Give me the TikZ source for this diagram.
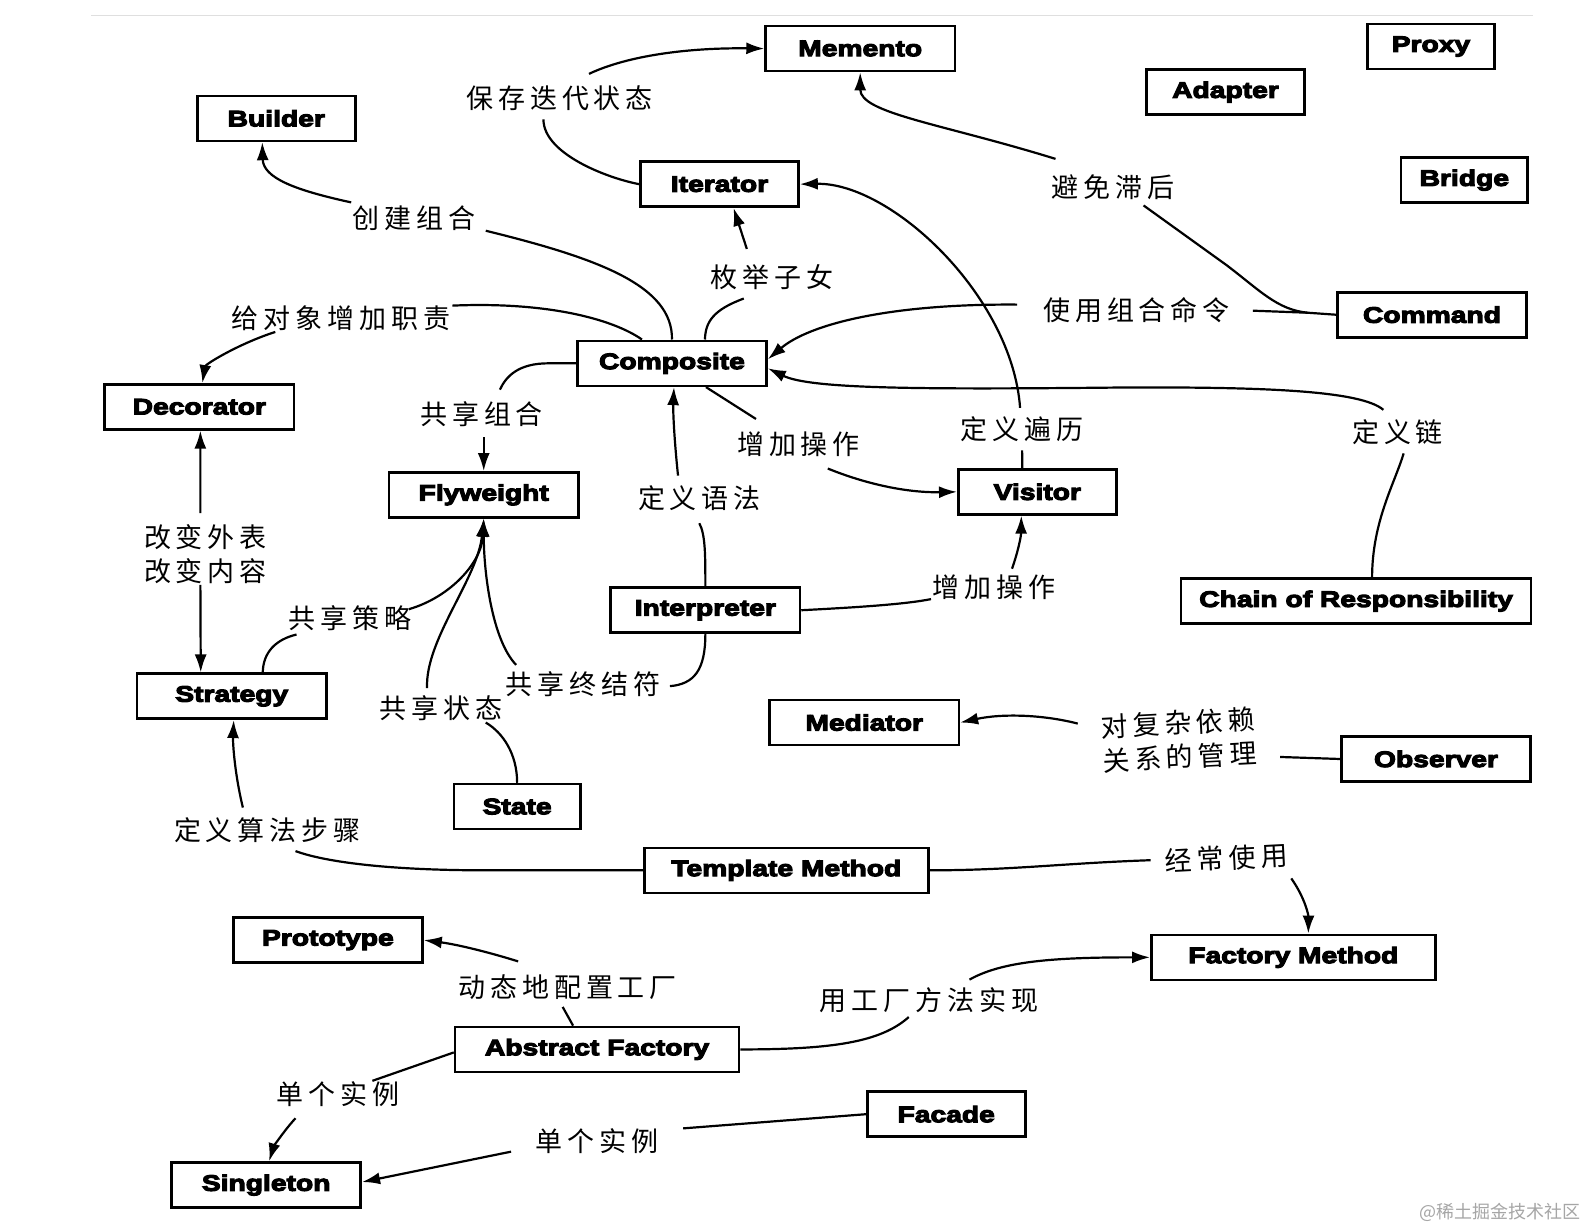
\documentclass[tikz,border=0pt]{standalone}
\usepackage{fontspec}
\usetikzlibrary{arrows.meta}
\newfontfamily\cjk[LetterSpace=18]{Noto Sans CJK SC}
\newfontfamily\cjkplain{Noto Sans CJK SC}
\newfontfamily\boxf[FakeStretch=1.26,BoldFeatures={FakeBold=5}]{Liberation Sans}
\tikzset{
  pbox/.style={draw, line width=1.3pt, font=\boxf\bfseries\fontsize{11.2}{13}\selectfont, minimum height=22.5pt, inner sep=0pt},
  wS/.style={pbox, minimum width=63.3pt},
  wM/.style={pbox, minimum width=79pt},
  wL/.style={pbox, minimum width=94.6pt},
  wXL/.style={pbox, minimum width=142pt},
  wC/.style={pbox, minimum width=175pt},
  lab/.style={font=\cjk\fontsize{13.5}{17}\selectfont, inner sep=0pt, align=center},
  con/.style={line width=1.1pt},
  arr/.style={con, -{Latex[length=9pt,width=6pt]}},
}
\begin{document}
\begin{tikzpicture}[x=0.506pt,y=-0.506pt]
\fill[white] (0,0) rectangle (1567.2,1215.4);
\useasboundingbox (0,0) rectangle (1567.2,1215.4);
\draw[gray!25, line width=0.6pt] (90,15) -- (1515,15);

% ---------- boxes ----------
\node[wL] (mem) at (850,48) {Memento};
\node[wS] (proxy) at (1414,46) {Proxy};
\node[wM] (adapt) at (1211,91) {Adapter};
\node[wM] (build) at (273,117) {Builder};
\node[wM] (iter) at (711,182) {Iterator};
\node[wS] (bridge) at (1447,178) {Bridge};
\node[wL] (cmd) at (1415,311) {Command};
\node[wL] (comp) at (664,359) {Composite};
\node[wL] (dec) at (197,402) {Decorator};
\node[wL] (flyw) at (478,489) {Flyweight};
\node[wM] (vis) at (1025,486) {Visitor};
\node[wC] (chain) at (1340,594) {Chain of Responsibility};
\node[wL] (interp) at (697,603) {Interpreter};
\node[wL] (strat) at (229,688) {Strategy};
\node[wL] (med) at (854,714) {Mediator};
\node[wL] (obs) at (1419,750) {Observer};
\node[wS] (state) at (511,797) {State};
\node[wXL] (templ) at (777,860) {Template Method};
\node[wL] (proto) at (324,929) {Prototype};
\node[wXL] (fm) at (1278,946) {Factory Method};
\node[wXL] (af) at (590,1037) {Abstract Factory};
\node[wM] (facade) at (935,1101) {Facade};
\node[wL] (single) at (263,1171) {Singleton};

% ---------- labels ----------
\node[lab] (lsave) at (553,97) {保存迭代状态};
\node[lab] (lbuild) at (409,216) {创建组合};
\node[lab] (ldeco) at (337,314) {给对象增加职责};
\node[lab] (lenum) at (763,274) {枚举子女};
\node[lab] (lavoid) at (1100,185) {避免滞后};
\node[lab] (lcmd) at (1123,306) {使用组合命令};
\node[lab] (lshare) at (476,409) {共享组合};
\node[lab] (laddA) at (789,439) {增加操作};
\node[lab] (ltrav) at (1010,424) {定义遍历};
\node[lab] (lchain) at (1381,427) {定义链};
\node[lab] (lchange) at (203,548) {改变外表\\改变内容};
\node[lab] (lgram) at (691,492) {定义语法};
\node[lab] (laddB) at (982,580) {增加操作};
\node[lab] (lstrat) at (346,611) {共享策略};
\node[lab] (lterm) at (576,676) {共享终结符};
\node[lab] (lstate) at (436,700) {共享状态};
\node[lab, rotate=3] (lobs) at (1165,731) {对复杂依赖\\关系的管理};
\node[lab] (lalgo) at (264,820) {定义算法步骤};
\node[lab, rotate=3] (loften) at (1212,848) {经常使用};
\node[lab] (ldyn) at (561,975) {动态地配置工厂};
\node[lab] (lfm) at (918,988) {用工厂方法实现};
\node[lab] (lsgA) at (334,1081) {单个实例};
\node[lab] (lsgB) at (590,1128) {单个实例};
\node[font=\cjkplain\fontsize{9}{11}\selectfont, text=gray!70, inner sep=0pt] (wm) at (1482,1198) {@稀土掘金技术社区};

% ---------- free ends ----------
\coordinate (c1a) at (537,118);
\coordinate (c1b) at (582,73);
\coordinate (c2a) at (1043,157);
\coordinate (c2m) at (1292,309);
\coordinate (c2b) at (1130,203);
\coordinate (c3b) at (1238,307);
\coordinate (c3a) at (1005,301);
\coordinate (c4a) at (735,295);
\coordinate (c4b) at (738,246);
\coordinate (c5a) at (480,228);
\coordinate (c5b) at (347,200);
\coordinate (c6a) at (447,302);
\coordinate (c6b) at (272,328);
\coordinate (c7a) at (494,385);
\coordinate (c7b) at (478,432);
\coordinate (c8a) at (670,470);
\coordinate (c8b) at (691,517);
\coordinate (c9a) at (747,414);
\coordinate (c9b) at (818,463);
\coordinate (c10a) at (1010,445);
\coordinate (c10b) at (1008,403);
\coordinate (c11a) at (1387,448);
\coordinate (c11b) at (1367,405);
\coordinate (c12a) at (920,592);
\coordinate (c12b) at (1000,562);
\coordinate (c13a) at (662,678);
\coordinate (c13b) at (510,657);
\coordinate (c14a) at (293,627);
\coordinate (c14b) at (404,602);
\coordinate (c15a) at (480,714);
\coordinate (c15b) at (422,680);
\coordinate (c16a) at (198,507);
\coordinate (c16b) at (198,578);
\coordinate (c17a) at (292,841);
\coordinate (c17b) at (240,798);
\coordinate (c18a) at (1137,850);
\coordinate (c18b) at (1276,868);
\coordinate (c19a) at (1265,748);
\coordinate (c19b) at (1065,715);
\coordinate (c20a) at (512,950);
\coordinate (c20b) at (556,995);
\coordinate (c21a) at (898,1005);
\coordinate (c21b) at (958,968);
\coordinate (c22a) at (368,1068);
\coordinate (c22b) at (292,1105);
\coordinate (c23a) at (675,1115);
\coordinate (c23b) at (505,1138);

% ---------- connectors ----------
% Iterator -> Memento (save iteration state)
\draw[con] (iter.west) .. controls (600,176) and (537,152) .. (c1a);
\draw[arr] (c1b) .. controls (620,55) and (680,47) .. (mem.west);
% Command -> Memento (avoid lag)
\draw[arr] (c2a) .. controls (930,122) and (850,112) .. (mem.south);
\draw[con] (cmd.west) -- (c2m) .. controls (1262,306) and (1245,287) .. (1212,262) -- (c2b);
\draw[con] (c2m) -- (c3b);
% Command -> Composite
\draw[arr] (c3a) .. controls (880,300) and (800,320) .. ([yshift=2pt]comp.east);
% Composite -> Iterator
\draw[con] ([xshift=16.5pt]comp.north) .. controls (697,318) and (705,306) .. (c4a);
\draw[arr] (c4b) -- ([xshift=7pt]iter.south);
% Composite -> Builder
\draw[con] (comp.north) .. controls (665,282) and (590,255) .. (c5a);
\draw[arr] (c5b) .. controls (292,188) and (260,176) .. ([xshift=-7pt]build.south);
% Composite -> Decorator
\draw[con] ([xshift=-15pt]comp.north) .. controls (605,315) and (540,298) .. (c6a);
\draw[arr] (c6b) .. controls (235,340) and (203,360) .. ([xshift=1.5pt]dec.north);
% Composite -> Flyweight
\draw[con] (comp.west) -- (542,359) .. controls (512,359) and (500,372) .. (c7a);
\draw[arr] (c7b) -- (flyw.north);
% Interpreter -> Composite
\draw[arr] (c8a) .. controls (666,432) and (665,405) .. ([xshift=1pt]comp.south);
\draw[con] (interp.north) .. controls (697,548) and (697,528) .. (c8b);
% Composite -> Visitor
\draw[con] ([xshift=17pt]comp.south) -- (c9a);
\draw[arr] (c9b) .. controls (860,480) and (900,487) .. (vis.west);
% Visitor -> Iterator
\draw[con] ([xshift=-7.5pt]vis.north) -- (c10a);
\draw[arr] (c10b) .. controls (1000,292) and (880,180) .. (iter.east);
% Chain -> Composite
\draw[con] ([xshift=8pt]chain.north) .. controls (1356,515) and (1378,478) .. (c11a);
\draw[arr] (c11b) .. controls (1345,386) and (1250,382) .. (1100,383) .. controls (900,385) and (800,384) .. ([yshift=-2.5pt]comp.east);
% Interpreter -> Visitor
\draw[con] (interp.east) .. controls (850,600) and (895,597) .. (c12a);
\draw[arr] (c12b) .. controls (1006,545) and (1009,530) .. ([xshift=-8pt]vis.south);
% Interpreter -> Flyweight
\draw[con] (interp.south) .. controls (697,662) and (686,676) .. (c13a);
\draw[arr] (c13b) .. controls (486,632) and (478,565) .. (flyw.south);
% Strategy -> Flyweight
\draw[con] ([xshift=15.5pt]strat.north) .. controls (260,645) and (272,632) .. (c14a);
\draw[arr] (c14b) .. controls (445,590) and (476,556) .. (flyw.south);
% State -> Flyweight
\draw[con] (state.north) .. controls (511,745) and (497,724) .. (c15a);
\draw[arr] (c15b) .. controls (420,632) and (472,572) .. (flyw.south);
% Decorator <-> Strategy
\draw[arr] (c16a) -- ([xshift=0.5pt]dec.south);
\draw[arr] (c16b) -- ([xshift=-15.5pt]strat.north);
% Template Method -> Strategy
\draw[con] (templ.west) -- (480,860) .. controls (385,860) and (322,852) .. (c17a);
\draw[arr] (c17b) .. controls (232,765) and (230,735) .. ([xshift=1pt]strat.south);
% Template Method -> Factory Method
\draw[con] (templ.east) .. controls (1000,860) and (1050,853) .. (c18a);
\draw[arr] (c18b) .. controls (1290,888) and (1293,905) .. ([xshift=7.5pt]fm.north);
% Observer -> Mediator
\draw[con] (obs.west) -- (c19a);
\draw[arr] (c19b) .. controls (1030,706) and (990,705) .. (med.east);
% Abstract Factory -> Prototype
\draw[arr] (c20a) .. controls (480,940) and (450,933) .. (proto.east);
\draw[con] (c20b) -- ([xshift=-12pt]af.north);
% Abstract Factory -> Factory Method
\draw[con] (af.east) .. controls (822,1037) and (870,1030) .. (c21a);
\draw[arr] (c21b) .. controls (990,950) and (1040,946) .. (fm.west);
% Abstract Factory -> Singleton
\draw[con] ([yshift=-1.5pt]af.west) -- (c22a);
\draw[arr] (c22b) .. controls (280,1118) and (270,1134) .. ([xshift=1.5pt]single.north);
% Facade -> Singleton
\draw[con] (facade.west) -- (c23a);
\draw[arr] (c23b) -- ([yshift=1.5pt]single.east);
\end{tikzpicture}
\end{document}
